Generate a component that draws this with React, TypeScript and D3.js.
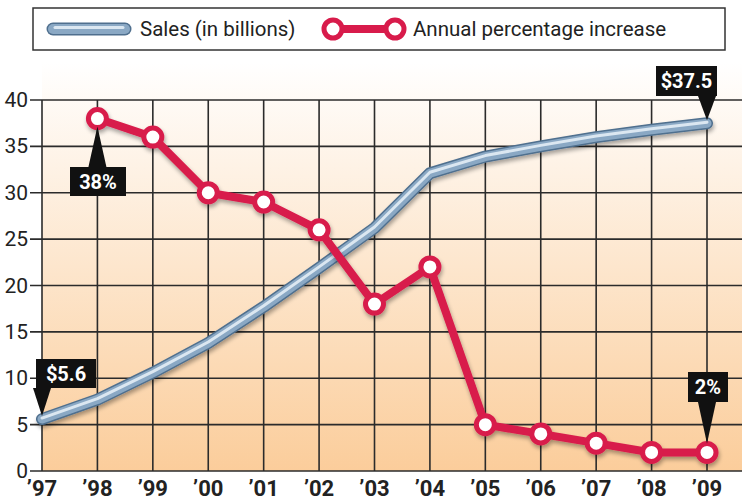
import React from "react";
import * as d3 from "d3";

const years = [1997, 1998, 1999, 2000, 2001, 2002, 2003, 2004, 2005, 2006, 2007, 2008, 2009];
const yearLabels = ["’97", "’98", "’99", "’00", "’01", "’02", "’03", "’04", "’05", "’06", "’07", "’08", "’09"];
const salesValues = [5.6, 7.7, 10.6, 13.8, 17.7, 21.9, 26.2, 32.1, 33.9, 35.0, 36.0, 36.8, 37.5];
const pctYears = [1998, 1999, 2000, 2001, 2002, 2003, 2004, 2005, 2006, 2007, 2008, 2009];
const pctValues = [38, 36, 30, 29, 26, 18, 22, 5, 4, 3, 2, 2];
const yTicks = [0, 5, 10, 15, 20, 25, 30, 35, 40];
const legendLabels = ["Sales (in billions)", "Annual percentage increase"];

const FONT = "'Roboto', 'Liberation Sans', sans-serif";
const RED = "#d81b4b";

export default function App() {
  const x = d3.scaleLinear().domain([1997, 2009]).range([42, 707]);
  const y = d3.scaleLinear().domain([0, 40]).range([471, 100]);
  const line = d3.line<[number, number]>().x((d) => x(d[0])).y((d) => y(d[1]));
  const salesPts: [number, number][] = years.map((yr, i) => [yr, salesValues[i]]);
  const pctPts: [number, number][] = pctYears.map((yr, i) => [yr, pctValues[i]]);
  const salesPath = line(salesPts) || "";
  const pctPath = line(pctPts) || "";

  const callout = (
    label: string,
    px: number,
    py: number,
    bx: number,
    by: number,
    bw: number,
    bh: number,
    dir: "down" | "up",
    key: string
  ) => {
    const tri =
      dir === "down"
        ? `M${px - 9},${by + bh} L${px + 9},${by + bh} L${px},${py} Z`
        : `M${px - 9},${by} L${px + 9},${by} L${px},${py} Z`;
    return (
      <g key={key}>
        <path d={tri} fill="#111" />
        <rect x={bx} y={by} width={bw} height={bh} fill="#111" />
        <text
          x={bx + bw / 2}
          y={by + bh / 2 + 7}
          textAnchor="middle"
          fill="#fff"
          fontFamily={FONT}
          fontWeight="bold"
          fontSize={20}
        >
          {label}
        </text>
      </g>
    );
  };

  const last = years.length - 1;

  return (
    <div style={{ position: "fixed", left: 0, top: 0 }}>
      <svg width={745} height={503} style={{ display: "block", background: "#fff" }}>
        <defs>
          <linearGradient id="bg" x1="0" y1="0" x2="0" y2="1">
            <stop offset="0" stopColor="#ffffff" />
            <stop offset="1" stopColor="#fbcd9b" />
          </linearGradient>
          <filter id="shadow" x="-10%" y="-10%" width="120%" height="130%">
            <feGaussianBlur in="SourceAlpha" stdDeviation="2" />
            <feOffset dx="1" dy="3" />
            <feComponentTransfer>
              <feFuncA type="linear" slope="0.35" />
            </feComponentTransfer>
            <feMerge>
              <feMergeNode />
              <feMergeNode in="SourceGraphic" />
            </feMerge>
          </filter>
        </defs>

        <rect x={42} y={62} width={700} height={409} fill="url(#bg)" />

        {yTicks.map((t) => (
          <line key={"h" + t} x1={30} x2={742} y1={y(t)} y2={y(t)} stroke="#2b2b2b" strokeWidth={1.6} />
        ))}
        {years.map((yr) => (
          <line key={"v" + yr} x1={x(yr)} x2={x(yr)} y1={y(40)} y2={y(0)} stroke="#2b2b2b" strokeWidth={1.6} />
        ))}

        {yTicks.map((t) => (
          <text key={"yl" + t} x={28} y={y(t) + 7} textAnchor="end" fontFamily={FONT} fontSize={21} fill="#222">
            {t}
          </text>
        ))}
        {years.map((yr, i) => (
          <text
            key={"xl" + yr}
            x={x(yr)}
            y={496}
            textAnchor="middle"
            fontFamily={FONT}
            fontWeight="bold"
            fontSize={22}
            fill="#222"
          >
            {yearLabels[i]}
          </text>
        ))}

        <g filter="url(#shadow)">
          <path d={salesPath} fill="none" stroke="#4f6f8e" strokeWidth={12} strokeLinecap="round" strokeLinejoin="round" />
          <path d={salesPath} fill="none" stroke="#8aa8c4" strokeWidth={9} strokeLinecap="round" strokeLinejoin="round" />
          <path d={salesPath} fill="none" stroke="#dbe7f1" strokeWidth={3} strokeLinecap="round" strokeLinejoin="round" transform="translate(0,-1)" />
        </g>

        <g filter="url(#shadow)">
          <path d={pctPath} fill="none" stroke={RED} strokeWidth={8} strokeLinejoin="round" />
          {pctPts.map((p, i) => (
            <circle key={"c" + i} cx={x(p[0])} cy={y(p[1])} r={9} fill="#fff" stroke={RED} strokeWidth={5} />
          ))}
        </g>

        {callout("$5.6", x(years[0]), y(salesValues[0]) - 3, 36, 359, 60, 29, "down", "c1")}
        {callout(pctValues[0] + "%", x(pctYears[0]), y(pctValues[0]) + 8, 70, 167, 56, 29, "up", "c2")}
        {callout("$" + salesValues[last], x(years[last]), y(salesValues[last]) - 3, 656, 66, 61, 30, "down", "c3")}
        {callout(
          pctValues[pctValues.length - 1] + "%",
          x(pctYears[pctYears.length - 1]),
          y(pctValues[pctValues.length - 1]) - 9,
          688,
          372,
          40,
          30,
          "down",
          "c4"
        )}

        <rect x={33} y={8} width={692} height={42} fill="#fff" stroke="#333" strokeWidth={1.5} />
        <g>
          <line x1={53} x2={125} y1={29} y2={29} stroke="#4f6f8e" strokeWidth={13} strokeLinecap="round" />
          <line x1={53} x2={125} y1={29} y2={29} stroke="#8aa8c4" strokeWidth={10} strokeLinecap="round" />
          <line x1={55} x2={123} y1={27.5} y2={27.5} stroke="#dbe7f1" strokeWidth={3} strokeLinecap="round" />
          <text x={140} y={36} fontFamily={FONT} fontSize={20.5} fill="#222">
            {legendLabels[0]}
          </text>
        </g>
        <g>
          <line x1={333} x2={395} y1={29} y2={29} stroke={RED} strokeWidth={8} />
          <circle cx={333} cy={29} r={9} fill="#fff" stroke={RED} strokeWidth={5} />
          <circle cx={395} cy={29} r={9} fill="#fff" stroke={RED} strokeWidth={5} />
          <text x={413} y={36} fontFamily={FONT} fontSize={20.5} fill="#222">
            {legendLabels[1]}
          </text>
        </g>
      </svg>
    </div>
  );
}
